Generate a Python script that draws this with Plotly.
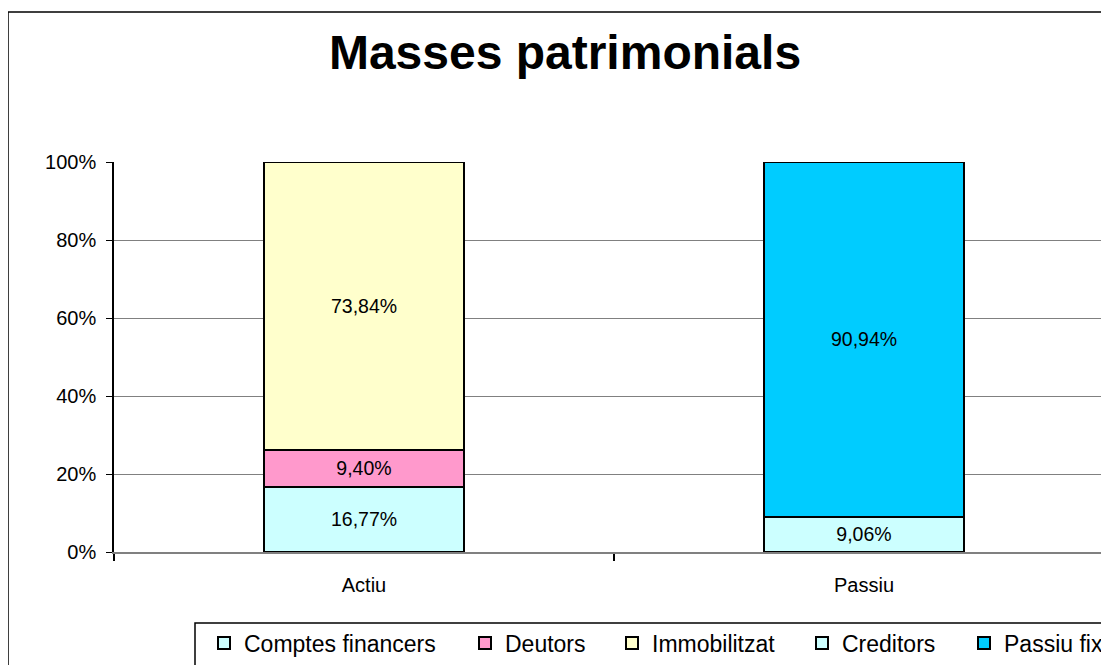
import plotly.graph_objects as go

categories = ["Actiu", "Passiu"]
series_names = ["Comptes financers", "Deutors", "Immobilitzat", "Creditors", "Passiu fix"]
series_cats = ["Actiu", "Actiu", "Actiu", "Passiu", "Passiu"]
series_values = [16.77, 9.40, 73.84, 9.06, 90.94]
series_colors = ["#CCFFFF", "#FF99CC", "#FFFFCC", "#CCFFFF", "#00CCFF"]
y_ticks = [0, 20, 40, 60, 80, 100]
y_tick_labels = ["0%", "20%", "40%", "60%", "80%", "100%"]
title_text = "Masses patrimonials"

FONT = "Liberation Sans, Arial, sans-serif"
# the page body has an 8px margin, so the figure starts at (8, 8) of the window
W, H = 1101, 657
L, R, T, B = 106, 0, 154, 113
pw, ph = W - L - R, H - T - B

# legend item start positions (figure px)
legend_item_x = [196, 457, 604, 794, 956]
legend_y_px = 635

fig = go.Figure()
for i, (name, cat, val, col) in enumerate(zip(series_names, series_cats, series_values, series_colors)):
    lg = "legend" if i == 0 else f"legend{i+1}"
    fig.add_trace(go.Bar(
        name=name, x=[cat], y=[val], width=0.4,
        marker=dict(color=col, line=dict(color="black", width=2)),
        texttemplate="%{y:.2f}%", textposition="inside", insidetextanchor="middle",
        textfont=dict(family=FONT, size=19.5, color="black"),
        constraintext="none",
        legend=lg, showlegend=True,
    ))

legends = {}
for i, ix in enumerate(legend_item_x):
    key = "legend" if i == 0 else f"legend{i+1}"
    legends[key] = dict(
        x=ix / W, xref="container", xanchor="left",
        y=1 - legend_y_px / H, yref="container", yanchor="middle",
        font=dict(family=FONT, size=23, color="black"),
        bgcolor="rgba(0,0,0,0)", borderwidth=0, orientation="h",
    )

def px_to_paper_x(px):
    return (px - L) / pw

def px_to_paper_y(py):
    return (H - B - py) / ph

shapes = [
    # outer chart frame
    dict(type="rect", xref="paper", yref="paper",
         x0=px_to_paper_x(0), x1=px_to_paper_x(1130),
         y0=px_to_paper_y(690), y1=px_to_paper_y(4),
         line=dict(color="black", width=1.5), fillcolor="rgba(0,0,0,0)", layer="below"),
    # legend box
    dict(type="rect", xref="paper", yref="paper",
         x0=px_to_paper_x(187), x1=px_to_paper_x(1130),
         y0=px_to_paper_y(690), y1=px_to_paper_y(615),
         line=dict(color="black", width=1.5), fillcolor="rgba(0,0,0,0)", layer="below"),
]

fig.update_layout(
    width=W, height=H,
    margin=dict(l=L, r=R, t=T, b=B, pad=0),
    paper_bgcolor="white", plot_bgcolor="white",
    barmode="stack", separators=",.",
    font=dict(family=FONT, size=20, color="black"),
    title=dict(text=f"<b>{title_text}</b>", x=557 / W, xref="container", xanchor="center",
               y=1 - 44 / H, yref="container", yanchor="middle",
               font=dict(family=FONT, size=48, color="black")),
    shapes=shapes,
    **legends,
)

fig.update_xaxes(
    type="category", categoryorder="array", categoryarray=categories,
    range=[-0.5, -0.5 + pw / 500],
    showline=True, linecolor="#808080", linewidth=2,
    ticks="outside", tickson="boundaries", ticklen=7, tickcolor="black", tickwidth=1.5,
    ticklabelstandoff=14, showgrid=False, zeroline=False,
    tickfont=dict(family=FONT, size=20, color="black"),
)
fig.update_yaxes(
    range=[0, 100], tickmode="array", tickvals=y_ticks, ticktext=y_tick_labels,
    showline=True, linecolor="black", linewidth=1.5,
    ticks="outside", ticklen=6, tickcolor="black", tickwidth=1,
    showgrid=True, gridcolor="#808080", gridwidth=1, zeroline=False,
    ticklabelstandoff=6,
    tickfont=dict(family=FONT, size=20, color="black"),
)

fig.write_html("out.html")
